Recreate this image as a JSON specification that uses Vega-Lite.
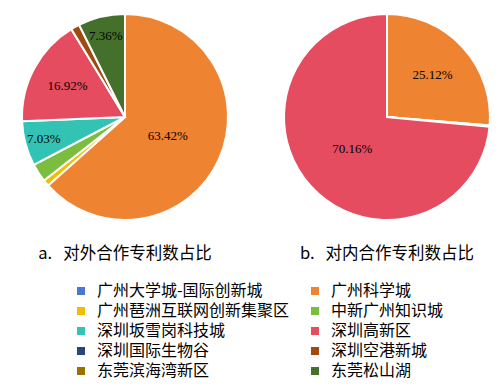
{
  "$schema": "https://vega.github.io/schema/vega-lite/v6.json",
  "padding": {"left": 18, "top": 10, "right": 0, "bottom": 8},
  "background": "white",
  "data": {"values": [
    {"chart": "a.\u00a0\u00a0\u00a0对外合作专利数占比", "region": "广州科学城", "value": 63.42},
    {"chart": "a.\u00a0\u00a0\u00a0对外合作专利数占比", "region": "广州琶洲互联网创新集聚区", "value": 1.0},
    {"chart": "a.\u00a0\u00a0\u00a0对外合作专利数占比", "region": "中新广州知识城", "value": 2.9},
    {"chart": "a.\u00a0\u00a0\u00a0对外合作专利数占比", "region": "深圳坂雪岗科技城", "value": 7.03},
    {"chart": "a.\u00a0\u00a0\u00a0对外合作专利数占比", "region": "深圳高新区", "value": 16.92},
    {"chart": "a.\u00a0\u00a0\u00a0对外合作专利数占比", "region": "深圳空港新城", "value": 1.37},
    {"chart": "a.\u00a0\u00a0\u00a0对外合作专利数占比", "region": "东莞松山湖", "value": 7.36},
    {"chart": "b.\u00a0\u00a0\u00a0对内合作专利数占比", "region": "广州科学城", "value": 25.12},
    {"chart": "b.\u00a0\u00a0\u00a0对内合作专利数占比", "region": "深圳坂雪岗科技城", "value": 0.2},
    {"chart": "b.\u00a0\u00a0\u00a0对内合作专利数占比", "region": "深圳高新区", "value": 70.16}
  ]},
  "transform": [
    {"calculate": "indexof(['广州大学城-国际创新城','广州科学城','广州琶洲互联网创新集聚区','中新广州知识城','深圳坂雪岗科技城','深圳高新区','深圳国际生物谷','深圳空港新城','东莞滨海湾新区','东莞松山湖'], datum.region)", "as": "k"},
    {"calculate": "format(datum.value, '.2f') + '%'", "as": "label"}
  ],
  "facet": {"column": {"field": "chart", "type": "nominal", "header": {"labelOrient": "bottom", "title": null, "labelFont": "Noto Sans CJK SC", "labelFontSize": 16.5, "labelColor": "#000", "labelPadding": 22}}},
  "spacing": 48,
  "resolve": {"scale": {"theta": "independent"}},
  "spec": {
    "width": 206,
    "height": 206,
    "layer": [
      {
        "mark": {"type": "arc", "stroke": "white", "strokeWidth": 2},
        "encoding": {
          "theta": {"field": "value", "type": "quantitative", "stack": true},
          "order": {"field": "k", "type": "quantitative"},
          "color": {
            "field": "region", "type": "nominal",
            "scale": {
              "domain": ["广州大学城-国际创新城","广州科学城","广州琶洲互联网创新集聚区","中新广州知识城","深圳坂雪岗科技城","深圳高新区","深圳国际生物谷","深圳空港新城","东莞滨海湾新区","东莞松山湖"],
              "range": ["#4A78CF","#EE8432","#F2BC00","#7BBE3F","#33C3B4","#E64C60","#264480","#A14A10","#977200","#44702B"]
            },
            "legend": {
              "orient": "none", "direction": "horizontal", "legendX": 51, "legendY": 269, "columns": 2, "title": null,
              "symbolType": "square", "symbolSize": 64, "symbolStrokeWidth": 0,
              "labelFont": "Noto Sans CJK SC", "labelFontSize": 16, "labelColor": "#000",
              "labelOffset": 8, "columnPadding": 17, "rowPadding": 4, "labelLimit": 400
            }
          }
        }
      },
      {
        "mark": {"type": "text", "font": "Liberation Serif", "fontSize": 13, "color": "#000"},
        "encoding": {
          "theta": {"field": "value", "type": "quantitative", "stack": true},
          "order": {"field": "k", "type": "quantitative"},
          "radius": {"field": "value", "type": "quantitative", "scale": {"type": "linear", "domain": [7, 17, 63], "range": [84, 65, 47], "clamp": true, "zero": false}},
          "text": {"condition": {"test": "datum.value > 5", "field": "label"}, "value": ""}
        }
      }
    ]
  },
  "config": {"view": {"stroke": null}}
}
